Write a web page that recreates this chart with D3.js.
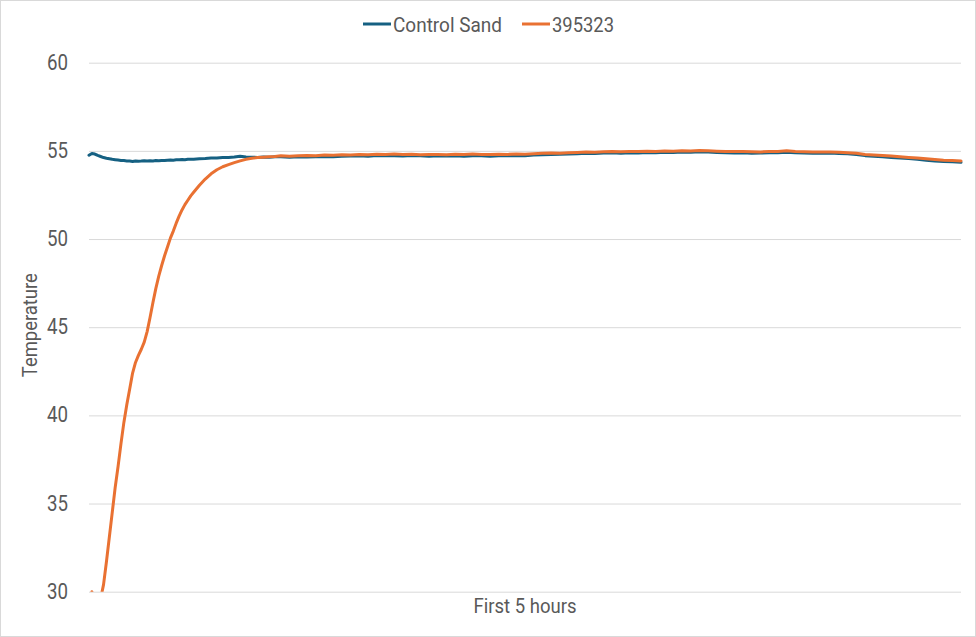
<!DOCTYPE html>
<html>
<head>
<meta charset="utf-8">
<script src="https://cdn.jsdelivr.net/npm/d3@7"></script>
<style>
  html, body { margin: 0; padding: 0; background: #fff; }
  svg { display: block; }
  text { font-family: Roboto, "Liberation Sans", sans-serif; fill: #595959; }
</style>
</head>
<body>
<svg id="chart" width="976" height="637"></svg>
<script>
// ---- data (minutes since start, temperatures) ----
const times = [
  0,1,2,3,4,5,6,7,8,9,10,11,12,13,14,15,16,17,18,19,20,21,22,23,24,25,26,27,28,29,30,31,32,33,34,35,36,
  38,40,42,44,46,48,50,52,54,56,58,60,62,64,
  66,69,72,75,78,81,84,87,90,93,96,99,102,105,108,111,114,117,120,123,126,129,132,135,138,141,144,147,150,
  153,156,159,162,165,168,171,174,177,180,183,186,189,192,195,198,201,204,207,210,213,216,219,222,225,228,
  231,234,237,240,243,246,249,252,255,258,261,264,267,270,273,276,279,282,285,288,291,294,297,300
];
const controlSand = [
  54.75,54.85,54.82,54.74,54.68,54.62,54.58,54.55,54.52,54.50,54.48,54.46,54.45,54.43,54.42,54.40,54.43,54.41,54.42,54.44,
  54.42,54.44,54.43,54.45,54.44,54.46,54.45,54.47,54.48,54.47,54.49,54.50,54.51,54.50,54.52,54.53,54.52,
  54.55,54.57,54.60,54.59,54.62,54.63,54.65,54.70,54.65,54.64,54.63,54.65,54.64,54.66,
  54.66,54.64,54.67,54.65,54.66,54.68,54.67,54.70,54.71,54.72,54.70,54.74,54.72,54.73,54.71,54.74,54.72,54.70,54.73,54.71,
  54.72,54.70,54.73,54.72,54.70,54.73,54.72,54.74,54.73,54.76,54.78,54.80,54.81,54.82,54.84,54.86,54.85,54.88,54.89,54.87,
  54.90,54.88,54.91,54.90,54.92,54.91,54.93,54.92,54.95,54.93,54.91,54.90,54.88,54.90,54.87,54.88,54.89,54.90,54.92,54.89,
  54.88,54.87,54.86,54.88,54.85,54.83,54.79,54.73,54.70,54.66,54.63,54.60,54.56,54.52,54.47,54.43,54.40,54.38,54.35
];
const sample395323 = [
  29.0,30.0,28.6,28.9,29.6,30.4,31.7,33.1,34.5,35.9,37.1,38.4,39.6,40.6,41.5,42.4,43.0,43.4,43.75,44.15,
  44.75,45.55,46.4,47.2,47.9,48.5,49.05,49.55,50.05,50.45,50.9,51.3,51.65,51.95,52.2,52.45,52.65,
  53.05,53.4,53.7,53.93,54.1,54.22,54.33,54.43,54.52,54.58,54.62,54.64,54.66,54.68,
  54.72,54.70,54.73,54.74,54.72,54.76,54.75,54.78,54.77,54.80,54.78,54.81,54.79,54.82,54.80,54.81,54.78,54.80,54.79,54.78,
  54.81,54.80,54.82,54.80,54.79,54.81,54.80,54.82,54.81,54.84,54.86,54.88,54.87,54.90,54.91,54.93,54.92,54.95,54.96,54.95,
  54.97,54.96,54.98,54.97,54.99,54.98,55.00,54.99,55.02,55.00,54.98,54.97,54.96,54.97,54.95,54.94,54.96,54.97,55.00,54.96,
  54.95,54.94,54.93,54.94,54.92,54.90,54.86,54.80,54.77,54.74,54.71,54.67,54.63,54.60,54.55,54.51,54.47,54.46,54.43
];
const seriesNames = ["Control Sand", "395323"];
const seriesColors = ["#156082", "#E97132"];
const yTicks = [30, 35, 40, 45, 50, 55, 60];
const xTitle = "First 5 hours";
const yTitle = "Temperature";

// ---- layout ----
const W = 976, H = 637;
const plot = { left: 89, right: 961, top: 62.7, bottom: 591.7 };
const svg = d3.select("#chart");

svg.append("rect").attr("x", 0.5).attr("y", 0.5).attr("width", W - 1).attr("height", H - 1)
  .attr("fill", "#fff").attr("stroke", "#d9d9d9").attr("stroke-width", 1);

const x = d3.scaleLinear().domain([d3.min(times), d3.max(times)]).range([plot.left, plot.right]);
const y = d3.scaleLinear().domain([30, 60]).range([plot.bottom, plot.top]);

// gridlines + tick labels via axis
const yAxis = d3.axisLeft(y).tickValues(yTicks).tickSize(-(plot.right - plot.left)).tickPadding(21).tickFormat(d3.format("d"));
const gy = svg.append("g").attr("transform", `translate(${plot.left},0)`).call(yAxis);
gy.select(".domain").remove();
gy.selectAll(".tick line").attr("stroke", "#d9d9d9").attr("stroke-width", 1);
gy.selectAll(".tick text").attr("fill", "#595959").style("font-size", "22px")
  .style("font-family", 'Roboto, "Liberation Sans", sans-serif')
  .attr("dy", "0.30em")
  .attr("textLength", 21).attr("lengthAdjust", "spacingAndGlyphs");

// clip
svg.append("clipPath").attr("id", "plotclip").append("rect")
  .attr("x", plot.left - 4).attr("y", plot.top - 10)
  .attr("width", plot.right - plot.left + 8).attr("height", plot.bottom - plot.top + 10);

const seriesData = [controlSand, sample395323];
const line = d3.line().x((d, i) => x(times[i])).y(d => y(d)).curve(d3.curveLinear);
const lg = svg.append("g").attr("clip-path", "url(#plotclip)");
seriesData.forEach((vals, k) => {
  lg.append("path").datum(vals)
    .attr("d", line)
    .attr("fill", "none")
    .attr("stroke", seriesColors[k])
    .attr("stroke-width", 3)
    .attr("stroke-linejoin", "round")
    .attr("stroke-linecap", "round");
});

// axis titles
svg.append("text").attr("x", (plot.left + plot.right) / 2).attr("y", 613)
  .attr("text-anchor", "middle").style("font-size", "20px")
  .attr("textLength", 103).attr("lengthAdjust", "spacingAndGlyphs").text(xTitle);
svg.append("text")
  .attr("transform", `translate(37,${(plot.top + plot.bottom) / 2 - 2}) rotate(-90)`)
  .attr("text-anchor", "middle").style("font-size", "20px")
  .attr("textLength", 104).attr("lengthAdjust", "spacingAndGlyphs").text(yTitle);

// legend
const legend = svg.append("g");
const legendItems = [{ x: 363, w: 109 }, { x: 522, w: 62 }];
seriesNames.forEach((name, k) => {
  const g = legend.append("g").attr("transform", `translate(${legendItems[k].x},24)`);
  g.append("line").attr("x1", 0).attr("x2", 28).attr("y1", 0).attr("y2", 0)
    .attr("stroke", seriesColors[k]).attr("stroke-width", 3);
  g.append("text").attr("x", 30).attr("y", 7.5).style("font-size", "21px")
    .attr("textLength", legendItems[k].w).attr("lengthAdjust", "spacingAndGlyphs").text(name);
});
</script>
</body>
</html>
